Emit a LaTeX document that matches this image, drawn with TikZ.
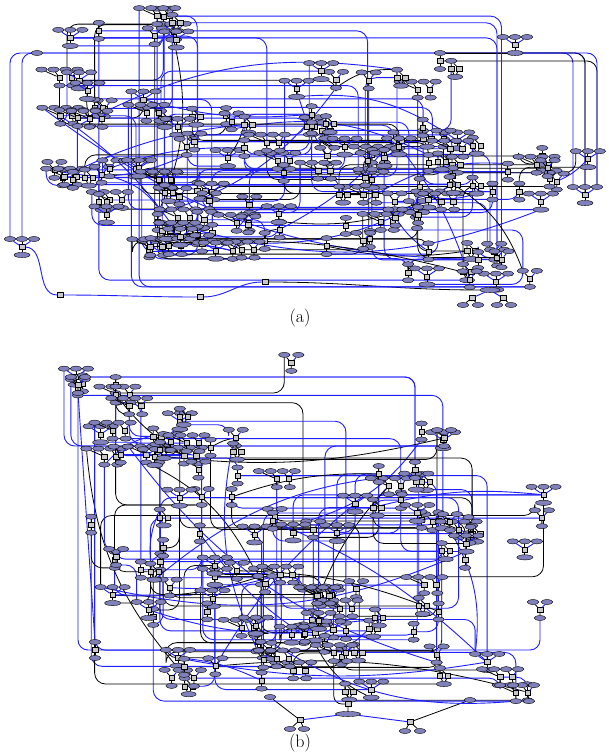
\documentclass[tikz,border=0pt]{standalone}
\usetikzlibrary{shapes.geometric}
\definecolor{nf}{RGB}{128,128,186}
\definecolor{sf}{RGB}{200,200,200}
\definecolor{bl}{RGB}{30,30,255}
\pgfdeclarelayer{back}
\pgfdeclarelayer{bg}
\pgfsetlayers{back,bg,main}
\tikzset{
  el/.style={ellipse,draw=black,fill=nf,line width=0.4pt,minimum width=11.5pt,minimum height=5.2pt,inner sep=0pt},
  sq/.style={rectangle,draw=black,fill=sf,line width=0.4pt,minimum width=5.4pt,minimum height=5pt,inner sep=0pt},
  bk/.style={draw=black,line width=0.8pt},
  be/.style={draw=bl,line width=0.9pt},
}
\newcount\mc
\newcommand\motif[4]{%
  \node[sq] (#1) at (#2,#3) {};
  \ifcase#4\or
    \node[el] (#1u) at (#2,#3-8) {};
    \node[el] (#1d) at (#2,#3+8) {};
    \draw[bk] (#1u)--(#1)--(#1d);
  \or
    \node[el] (#1u) at (#2-7,#3-8) {};
    \node[el] (#1v) at (#2+7,#3-8) {};
    \node[el] (#1d) at (#2,#3+8) {};
    \draw[bk] (#1u)--(#1) (#1)--(#1d);
    \draw[be] (#1v)--(#1);
  \or
    \node[el] (#1u) at (#2-12,#3-8) {};
    \node[el] (#1v) at (#2,#3-8) {};
    \node[el] (#1w) at (#2+12,#3-8) {};
    \node[el,minimum width=16pt] (#1d) at (#2,#3+8) {};
    \draw[be] (#1u)--(#1) (#1w)--(#1);
    \draw[bk] (#1v)--(#1)--(#1d);
  \or
    \node[el] (#1u) at (#2,#3-8) {};
    \node[sq] (#1s) at (#2+8,#3) {};
    \node[el,minimum width=15pt] (#1d) at (#2+4,#3+8) {};
    \draw[bk] (#1u)--(#1)--(#1d) (#1u)--(#1s)--(#1d);
  \or
    \node[el] (#1u) at (#2-18,#3-8) {};
    \node[el] (#1v) at (#2-6,#3-8) {};
    \node[el] (#1w) at (#2+6,#3-8) {};
    \node[el] (#1z) at (#2+18,#3-8) {};
    \node[sq] (#1s) at (#2+12,#3) {};
    \node[el] (#1d) at (#2,#3+8) {};
    \node[el] (#1e) at (#2+13,#3+8) {};
    \draw[bk] (#1u)--(#1) (#1v)--(#1) (#1)--(#1d) (#1w)--(#1s) (#1s)--(#1e);
    \draw[be] (#1z)--(#1s);
  \fi}
% random connector between two named motifs (#1 = prefix, #2/#3 = indices, #4 = style)
\newcommand\randedge[4]{%
  \pgfmathtruncatemacro\rs{random(10)}%
  \ifnum\rs<5
    \draw[#4,rounded corners=11pt] (#1#2d) -| (#1#3u);
  \else\ifnum\rs<9
    \draw[#4,rounded corners=11pt] (#1#2) |- (#1#3);
  \else\ifnum\rs<10
    \draw[#4] (#1#2d) to[bend left=18] (#1#3u);
  \else
    \draw[#4] (#1#2) to[bend right=10] (#1#3);
  \fi\fi\fi}
\begin{document}
\begin{tikzpicture}[x=1pt,y=-1pt]
\useasboundingbox (0,0) rectangle (608,755);
\begin{pgfonlayer}{back}
\fill[white] (0,0) rectangle (608,755);
\end{pgfonlayer}
\pgfmathsetseed{4711}
% ---------------- panel (a) ----------------
\global\mc=0
\foreach \xa/\ya/\xb/\yb/\n in {70/14/185/40/8, 45/58/190/120/11, 200/66/470/105/7,
  170/114/480/165/30, 40/168/300/205/20, 300/168/420/210/8, 410/152/600/205/17,
  100/212/300/255/22, 300/212/420/255/8, 400/242/530/282/12}{
  \foreach \i in {1,...,\n}{
    \global\advance\mc by 1
    \pgfmathsetmacro\x{\xa+rnd*(\xb-\xa)}
    \pgfmathsetmacro\y{\ya+rnd*(\yb-\ya)}
    \pgfmathtruncatemacro\mt{random(5)}
    \edef\tmp{\noexpand\motif{A\the\mc}{\x}{\y}{\mt}}\tmp
  }
}
\xdef\NA{\the\mc}
\node[el] (ALt) at (37,53) {};
\motif{ALL}{22}{247}{3}
\motif{AR}{585}{195}{3}
\motif{AT}{440}{61}{1}
\motif{AQ}{515}{45}{3}
\node[el,minimum width=20pt] (Abig) at (490,290) {};
\node[sq] (As1) at (472,298) {};
\node[sq] (As2) at (503,298) {};
\node[el] (Ae1) at (463,305) {};
\node[el] (Ae2) at (478,305) {};
\node[el] (Ae3) at (497,305) {};
\node[el] (Ae4) at (511,305) {};
\node[sq] (Ab1) at (200,297) {};
\node[sq] (Ab2) at (60,295) {};
\node[sq] (Ab3) at (265,282) {};
\draw[bk] (As1)--(Ae1) (As1)--(Ae2) (As2)--(Ae3) (As2)--(Ae4);
\draw[be] (Abig)--(As1) (Abig)--(As2);
\begin{pgfonlayer}{bg}
\draw[be,rounded corners=10pt] (ALt) -| (ALLu);
\draw[be,rounded corners=10pt] (ALt) -| (ALLv);
\draw[be,rounded corners=10pt] (ALt) -| (ARv);
\draw[be,rounded corners=10pt] (ALt) -| (ARu);
\draw[bk,rounded corners=10pt] (AT) -| (ARw);
\draw[bk,rounded corners=10pt] (ATu) -| (AR);
\draw[be,rounded corners=10pt] (AQd) -| (ARw);
\draw[bk] (AQd) -- (ATu);
\draw[be] (ALL) to[out=0,in=180] (Ab2);
\draw[be] (Ab2) to[out=0,in=180] (Ab1);
\draw[be] (Ab1) to[out=0,in=180] (Ab3);
\draw[bk] (Ab3) to[out=0,in=180] (Abig);
\foreach \k in {1,...,170}{
  \pgfmathtruncatemacro\pp{random(\NA)}
  \pgfmathtruncatemacro\loc{random(10)}
  \ifnum\loc>4 \pgfmathtruncatemacro\qq{mod(\pp+random(14)-1,\NA)+1}\else\pgfmathtruncatemacro\qq{random(\NA)}\fi
  \pgfmathtruncatemacro\cl{random(10)}
  \ifnum\cl>3 \def\est{be}\else\def\est{bk}\fi
  \edef\tmp{\noexpand\randedge{A}{\pp}{\qq}{\est}}\tmp
}
\end{pgfonlayer}
\node[font=\fontsize{18}{20}\selectfont] (la) at (300,318) {(a)};
% ---------------- panel (b) ----------------
\global\mc=0
\foreach \xa/\ya/\xb/\yb/\n in {65/364/135/395/6, 280/362/305/375/1, 90/402/200/460/12,
  170/434/250/470/6, 405/420/445/465/3, 230/470/440/540/20, 440/494/550/580/11,
  85/484/210/620/15, 200/564/440/650/32, 150/650/540/698/22}{
  \foreach \i in {1,...,\n}{
    \global\advance\mc by 1
    \pgfmathsetmacro\x{\xa+rnd*(\xb-\xa)}
    \pgfmathsetmacro\y{\ya+rnd*(\yb-\ya)}
    \pgfmathtruncatemacro\mt{random(5)}
    \edef\tmp{\noexpand\motif{B\the\mc}{\x}{\y}{\mt}}\tmp
  }
}
\xdef\NB{\the\mc}
\motif{BT}{78}{385}{2}
\motif{BR}{415}{470}{1}
\motif{BL}{95}{650}{1}
\motif{BB}{540}{610}{2}
\node[el,minimum width=25pt] (Bbig) at (348,714) {};
\node[sq] (Bs0) at (348,704) {};
\node[sq] (Bs1) at (300,720) {};
\node[sq] (Bs2) at (410,722) {};
\node[el] (Bb1) at (290,729) {};
\node[el] (Bb2) at (304,729) {};
\node[el] (Bb3) at (405,731) {};
\node[el] (Bb4) at (420,731) {};
\node[el] (Bb5) at (270,697) {};
\node[el] (Bb6) at (470,700) {};
\draw[bk] (Bs0)--(Bbig) (Bs1)--(Bb1) (Bs1)--(Bb2) (Bs2)--(Bb3) (Bs2)--(Bb4);
\draw[be] (Bbig)--(Bs1) (Bbig)--(Bs2);
\begin{pgfonlayer}{bg}
\draw[be,rounded corners=10pt] (BTu) -| (BRu);
\draw[be,rounded corners=10pt] (BTv) -| (BR);
\draw[be] (BTd) -- (BLu);
\draw[be,rounded corners=10pt] (BT) |- (BL);
\draw[be,rounded corners=10pt] (BL) -| (BBd);
\draw[bk] (Bb5) -- (Bs1);
\draw[bk] (Bb6) -- (Bs2);
\draw[bk,rounded corners=8pt] (Bs0) -| (B\NB d);
\foreach \k in {1,...,160}{
  \pgfmathtruncatemacro\pp{random(\NB)}
  \pgfmathtruncatemacro\loc{random(10)}
  \ifnum\loc>4 \pgfmathtruncatemacro\qq{mod(\pp+random(14)-1,\NB)+1}\else\pgfmathtruncatemacro\qq{random(\NB)}\fi
  \pgfmathtruncatemacro\cl{random(10)}
  \ifnum\cl>4 \def\est{be}\else\def\est{bk}\fi
  \edef\tmp{\noexpand\randedge{B}{\pp}{\qq}{\est}}\tmp
}
\end{pgfonlayer}
\node[font=\fontsize{18}{20}\selectfont] (lb) at (300,743) {(b)};
\end{tikzpicture}
\end{document}
